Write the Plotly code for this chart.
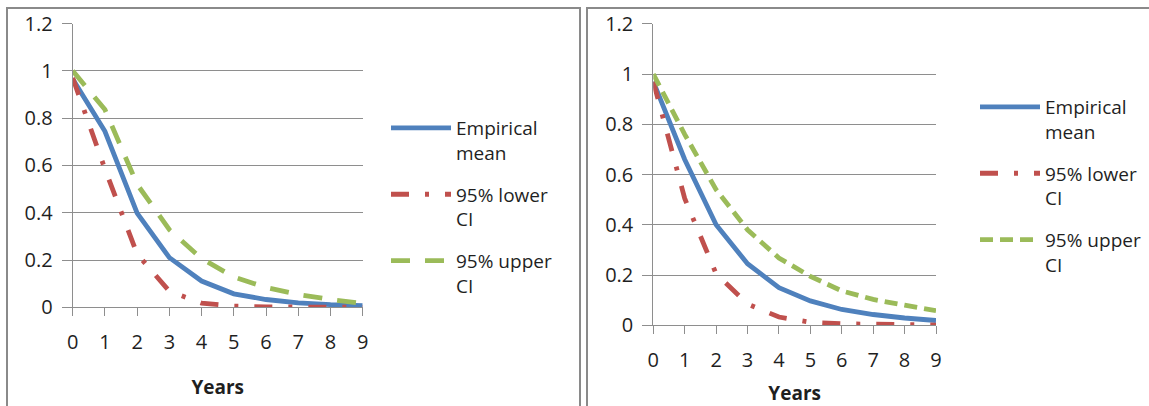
import plotly.graph_objects as go

years = list(range(10))

left_mean = [0.965, 0.744, 0.398, 0.21, 0.111, 0.057, 0.033, 0.019, 0.011, 0.007]
left_lower = [0.97, 0.585, 0.225, 0.068, 0.018, 0.005, 0.002, 0.001, 0.0005, 0.0]
left_upper = [1.0, 0.836, 0.52, 0.328, 0.206, 0.128, 0.084, 0.054, 0.033, 0.016]

right_mean = [0.97, 0.66, 0.40, 0.245, 0.15, 0.097, 0.063, 0.043, 0.029, 0.019]
right_lower = [0.97, 0.505, 0.205, 0.085, 0.033, 0.012, 0.006, 0.003, 0.002, 0.001]
right_upper = [1.0, 0.76, 0.54, 0.38, 0.268, 0.195, 0.137, 0.103, 0.08, 0.058]

names = ["Empirical<br>mean", "95% lower<br>CI", "95% upper<br>CI"]
x_ticks = [str(v) for v in years]

W, H = 1149, 406
BLUE, RED, GREEN = "#4F81BD", "#C0504D", "#9BBB59"
GRID = "#8e8e8e"
FONT = "Open Sans"
TXT = "#1f1f1f"


def px_x(p):
    return p / W


def px_y(p):
    return 1 - p / H


fig = go.Figure()

panels = [
    (left_mean, left_lower, left_upper, "x", "y", "legend", "19px,15px", "L"),
    (right_mean, right_lower, right_upper, "x2", "y2", "legend2", "13px,7px", "R"),
]
for mean, lower, upper, xa, ya, lg, gdash, tag in panels:
    fig.add_trace(go.Scatter(x=years, y=mean, mode="lines", name=names[0],
                             line=dict(color=BLUE, width=4.8), xaxis=xa, yaxis=ya,
                             legend=lg, legendgroup=tag + "m"))
    fig.add_trace(go.Scatter(x=years, y=lower, mode="lines", name=names[1],
                             line=dict(color=RED, width=4.8, dash="18px,16px,4px,16px"),
                             xaxis=xa, yaxis=ya, legend=lg, legendgroup=tag + "l"))
    fig.add_trace(go.Scatter(x=years, y=upper, mode="lines", name=names[2],
                             line=dict(color=GREEN, width=4.8, dash=gdash),
                             xaxis=xa, yaxis=ya, legend=lg, legendgroup=tag + "u"))


def xaxis_style(title_standoff):
    return dict(range=[0, 9], tickvals=years, ticktext=x_ticks, showgrid=False,
                showline=True, linecolor=GRID, linewidth=1, ticks="outside", ticklen=8,
                tickcolor=GRID, tickwidth=1, zeroline=False, ticklabelstandoff=9,
                tickfont=dict(family=FONT, size=20, color=TXT),
                title=dict(text="<b>Years</b>", font=dict(family=FONT, size=19, color=TXT),
                           standoff=title_standoff))


ycommon = dict(range=[0, 1.2], dtick=0.2, showgrid=True, gridcolor=GRID, gridwidth=1,
               showline=True, linecolor=GRID, linewidth=1, ticks="outside", ticklen=10,
               tickcolor=GRID, tickwidth=1, zeroline=False, ticklabelstandoff=5,
               tickfont=dict(family=FONT, size=20, color=TXT))

legcommon = dict(font=dict(family=FONT, size=19, color=TXT), bgcolor="rgba(0,0,0,0)",
                 borderwidth=0, valign="top", itemwidth=60, xanchor="left", yanchor="top",
                 tracegroupgap=14)

fig.update_layout(
    autosize=True,
    margin=dict(l=0, r=0, t=0, b=0, autoexpand=False),
    paper_bgcolor="white", plot_bgcolor="white",
    xaxis=dict(domain=[px_x(72.7), px_x(362.7)], anchor="y", **xaxis_style(26)),
    yaxis=dict(domain=[px_y(307.3), px_y(23.5)], anchor="x", **ycommon),
    xaxis2=dict(domain=[px_x(653.3), px_x(936)], anchor="y2", **xaxis_style(25)),
    yaxis2=dict(domain=[px_y(325.3), px_y(23.8)], anchor="x2", **ycommon),
    legend=dict(x=px_x(386), y=px_y(109), **legcommon),
    legend2=dict(x=px_x(975), y=px_y(88), **legcommon),
    showlegend=True,
    shapes=[
        dict(type="rect", xref="paper", yref="paper", x0=px_x(7), x1=px_x(580),
             y0=-0.05, y1=px_y(8), line=dict(color="#8a8a8a", width=2)),
        dict(type="rect", xref="paper", yref="paper", x0=px_x(587), x1=1.05,
             y0=-0.05, y1=px_y(8), line=dict(color="#8a8a8a", width=2)),
    ],
)

post = (
    "document.documentElement.style.margin='0';"
    "document.documentElement.style.padding='0';"
    "document.documentElement.style.overflow='hidden';"
    "document.body.style.margin='0';"
    "document.body.style.padding='0';"
    "document.body.style.overflow='hidden';"
    "var gd=document.getElementById('{plot_id}');"
    "gd.style.width='100vw';gd.style.height='100vh';"
    "Plotly.Plots.resize(gd);"
)

fig.write_html("out.html", default_width="100vw", default_height="100vh",
               config={"responsive": True, "displayModeBar": False},
               post_script=post)
